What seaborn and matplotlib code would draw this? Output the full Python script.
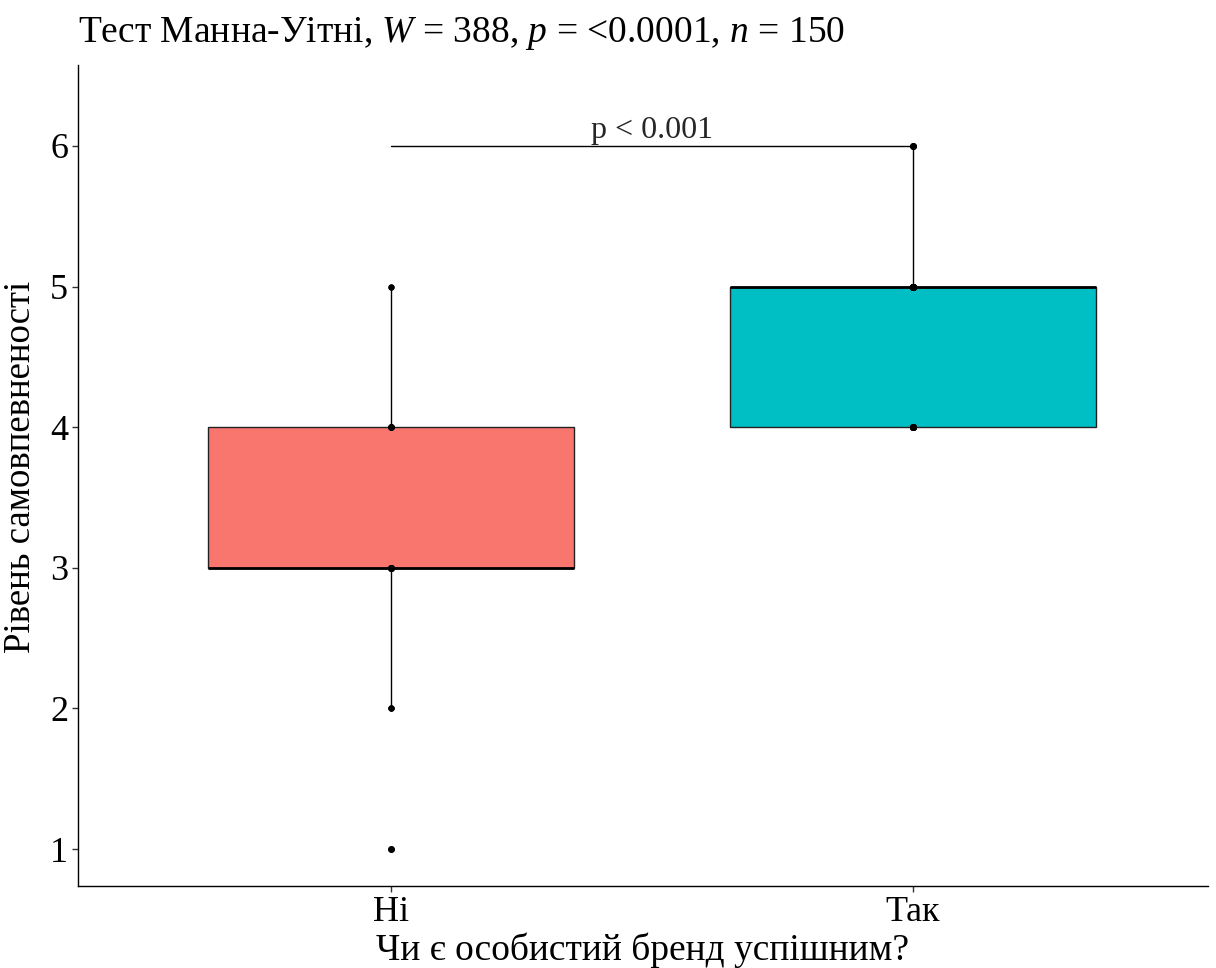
import numpy as np
import pandas as pd
import matplotlib
matplotlib.use("Agg")
import matplotlib.pyplot as plt
import seaborn as sns

# ---- data ----
groups = ["Ні", "Так"]
levels_no = [1, 2, 3, 4, 5]
counts_no = [1, 3, 20, 10, 2]
levels_yes = [4, 5, 6]
counts_yes = [35, 65, 14]
box_colors = ["#F8766D", "#00BFC4"]
title_text = r"Тест Манна-Уітні, $W$ = 388, $p$ = <0.0001, $n$ = 150"
bracket_label = "p < 0.001"
xlabel = "Чи є особистий бренд успішним?"
ylabel = "Рівень самовпевненості"
yticks = [1, 2, 3, 4, 5, 6]

vals = np.concatenate([np.repeat(levels_no, counts_no), np.repeat(levels_yes, counts_yes)])
grp = [groups[0]] * sum(counts_no) + [groups[1]] * sum(counts_yes)
df = pd.DataFrame({"group": pd.Categorical(grp, categories=groups), "value": vals})

sns.set_theme(style="white")
plt.rcParams["font.family"] = ["Liberation Serif", "DejaVu Serif"]
plt.rcParams["mathtext.fontset"] = "custom"
plt.rcParams["mathtext.rm"] = "Liberation Serif"
plt.rcParams["mathtext.it"] = "Liberation Serif:italic"

fig = plt.figure(figsize=(12.16, 9.68), dpi=100)
ax = fig.add_axes([78 / 1216, 1 - 886 / 968, (1208 - 78) / 1216, (886 - 65) / 968])

sns.boxplot(data=df, x="group", y="value", hue="group", palette=box_colors, legend=False,
            saturation=1, width=0.7, showcaps=False, whis=1.5, linewidth=1.0, linecolor="#222222",
            flierprops=dict(marker="o", markersize=4, markerfacecolor="black", markeredgecolor="black"),
            medianprops=dict(color="black", linewidth=2.0),
            whiskerprops=dict(color="black", linewidth=1.0),
            boxprops=dict(edgecolor="#222222", linewidth=1.0), ax=ax)
sns.stripplot(data=df, x="group", y="value", jitter=False, color="black", size=4.5, ax=ax, zorder=5)

# significance bracket
ax.plot([0, 1], [6, 6], color="black", linewidth=1.0, zorder=4)
ax.text(0.5, 6.005, bracket_label, ha="center", va="bottom", fontsize=23)

ax.set_xlim(-0.6, 1.565)
ax.set_ylim(0.737, 6.576)
ax.set_yticks(yticks)
ax.set_yticklabels([str(t) for t in yticks])
ax.tick_params(axis="both", labelsize=26, length=4, width=1, color="#333333", left=True, bottom=True,
               labelcolor="black")
ax.tick_params(axis="x", pad=3)
ax.tick_params(axis="y", pad=3)
ax.set_xlabel(xlabel, fontsize=27, labelpad=3, color="black")
ax.set_ylabel(ylabel, fontsize=26.5, color="black")
ax.yaxis.set_label_coords(-0.035, 0.51)
for s in ["top", "right"]:
    ax.spines[s].set_visible(False)
for s in ["left", "bottom"]:
    ax.spines[s].set_color("black")
    ax.spines[s].set_linewidth(1.0)

fig.text(78 / 1216, 1 - 33 / 968, title_text, ha="left", va="center", fontsize=27, color="black")

fig.savefig("out.png", dpi=100, facecolor="white")
